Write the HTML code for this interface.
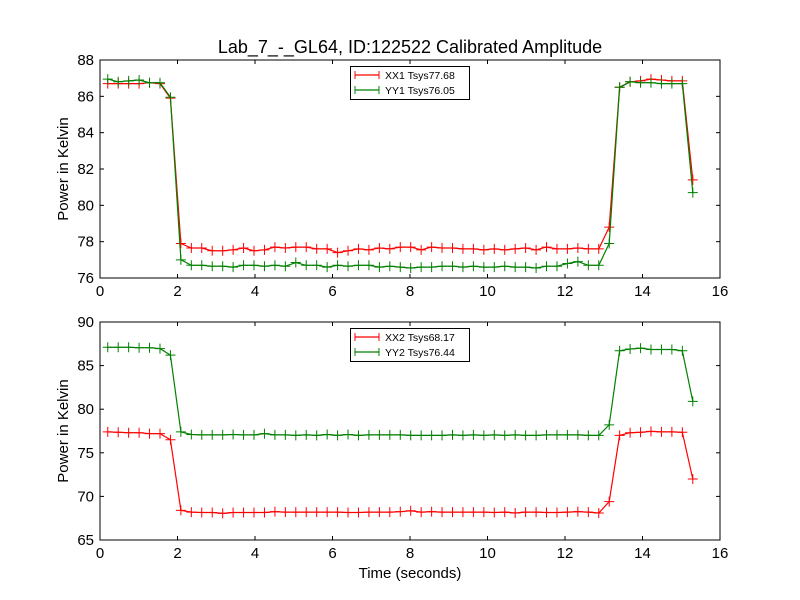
<!DOCTYPE html>
<html><head><meta charset="utf-8"><style>
body{margin:0;background:#fff;}
svg{display:block;font-family:"Liberation Sans","DejaVu Sans",sans-serif;}
</style></head><body>
<svg id="chart" width="800" height="600" viewBox="0 0 800 600">
<rect width="800" height="600" fill="#fff"/>
<text x="410" y="53" font-size="18" text-anchor="middle">Lab_7_-_GL64, ID:122522 Calibrated Amplitude</text>
<text x="410" y="578" font-size="15" text-anchor="middle">Time (seconds)</text>
</svg>
<script>
const xTicks=[0,2,4,6,8,10,12,14,16];
const topYTicks=[76,78,80,82,84,86,88];
const botYTicks=[65,70,75,80,85,90];
const times=[];
for(let i=0;i<57;i++){times.push(+(0.2+0.2696*i).toFixed(3));}
const xx1=[86.7,86.7,86.7,86.7,86.75,86.7,85.9,77.9,
77.65,77.65,77.5,77.5,77.55,77.65,77.5,77.55,77.7,77.65,77.7,77.7,77.6,77.6,77.4,77.5,77.6,77.55,77.65,77.6,
77.7,77.7,77.55,77.7,77.65,77.65,77.6,77.6,77.55,77.6,77.55,77.6,77.65,77.55,77.7,77.6,77.6,77.65,77.6,77.6,
78.8,86.5,86.8,86.85,86.95,86.9,86.85,86.85,81.4];
const yy1=[86.95,86.8,86.85,86.9,86.75,86.75,85.95,77.0,
76.7,76.7,76.65,76.65,76.6,76.7,76.7,76.65,76.7,76.65,76.85,76.7,76.7,76.6,76.7,76.65,76.7,76.7,76.6,76.65,
76.6,76.55,76.6,76.6,76.65,76.65,76.6,76.65,76.6,76.6,76.65,76.6,76.6,76.55,76.65,76.65,76.8,76.9,76.7,76.7,
77.9,86.5,86.8,86.75,86.75,86.7,86.7,86.7,80.7];
const xx2=[77.4,77.35,77.3,77.3,77.2,77.2,76.5,68.4,
68.2,68.15,68.15,68.05,68.15,68.15,68.15,68.15,68.25,68.2,68.2,68.2,68.2,68.2,68.2,68.15,68.15,68.2,68.2,68.2,
68.25,68.35,68.2,68.25,68.2,68.2,68.2,68.2,68.2,68.15,68.2,68.1,68.2,68.2,68.15,68.15,68.2,68.25,68.2,68.1,
69.4,77.0,77.3,77.35,77.45,77.4,77.4,77.35,72.0];
const yy2=[87.1,87.1,87.1,87.05,87.05,86.95,86.2,77.4,
77.1,77.05,77.05,77.05,77.1,77.05,77.05,77.2,77.05,77.05,77.0,77.05,77.0,77.1,77.0,77.1,77.0,77.05,77.05,77.05,
77.05,77.0,77.0,77.0,77.0,77.05,77.0,77.05,77.0,77.05,77.0,77.05,77.0,77.0,77.05,77.05,77.05,77.05,77.0,77.0,
78.2,86.7,86.9,87.0,86.85,86.85,86.85,86.7,80.9];
const NS="http://www.w3.org/2000/svg";
const svg=document.getElementById('chart');
function mk(tag,attrs,parent){const e=document.createElementNS(NS,tag);for(const k in attrs)e.setAttribute(k,attrs[k]);(parent||svg).appendChild(e);return e;}
function panel(name,top,bottom,yMin,yMax,yTicks,series,legendY){
  const L=100,R=720;
  const g=mk('g',{});
  
  
  const sx=v=>L+(v-0)/(16-0)*(R-L);
  const sy=v=>bottom-(v-yMin)/(yMax-yMin)*(bottom-top);
  const clip='clip-'+name;
  const cp=mk('clipPath',{id:clip},g);mk('rect',{x:L,y:top,width:R-L,height:bottom-top},cp);
  series.forEach(s=>{
    const sg=mk('g',{'clip-path':'url(#'+clip+')'},g);
    
    
    const pts=s.vals.map((v,i)=>sx(times[i]).toFixed(1)+','+sy(v).toFixed(1)).join(' ');
    mk('polyline',{points:pts,fill:'none',stroke:s.color,'stroke-width':1.2},sg);
    let d='';
    s.vals.forEach((v,i)=>{const x=sx(times[i]),y=sy(v);d+=`M${x-5},${y}H${x+5}M${x},${y-5}V${y+5}`;});
    mk('path',{d:d,stroke:s.color,'stroke-width':1,fill:'none'},sg);
  });
  mk('rect',{x:L,y:top,width:R-L,height:bottom-top,fill:'none',stroke:'#000','stroke-width':1},g);
  xTicks.forEach(t=>{
    const x=sx(t);
    mk('line',{x1:x,x2:x,y1:bottom,y2:bottom-4,stroke:'#000'},g);
    mk('line',{x1:x,x2:x,y1:top,y2:top+4,stroke:'#000'},g);
    const tx=mk('text',{x:x,y:bottom+18,'font-size':15,'text-anchor':'middle'},g);tx.textContent=t;
    
    
  });
  yTicks.forEach(t=>{
    const y=sy(t);
    mk('line',{x1:L,x2:L+4,y1:y,y2:y,stroke:'#000'},g);
    mk('line',{x1:R,x2:R-4,y1:y,y2:y,stroke:'#000'},g);
    const tx=mk('text',{x:L-6,y:y+5,'font-size':15,'text-anchor':'end'},g);tx.textContent=t;
    
    
  });
  const yt=mk('text',{x:68,y:(top+bottom)/2,'font-size':15,'text-anchor':'middle',transform:`rotate(-90 68 ${(top+bottom)/2})`},g);
  yt.textContent='Power in Kelvin';
  
  
  const lg=mk('g',{},g);
  
  
  mk('rect',{x:350.5,y:legendY+0.5,width:119,height:33,fill:'#fff',stroke:'#000','stroke-width':1},lg);
  series.forEach((s,i)=>{
    const y=legendY+9+i*15;
    const e=mk('g',{},lg);
    
    
    mk('line',{x1:355,x2:379,y1:y,y2:y,stroke:s.color,'stroke-width':1.2},e);
    mk('path',{d:`M355,${y-4}V${y+4}M379,${y-4}V${y+4}`,stroke:s.color},e);
    const tx=mk('text',{x:385,y:y+4,'font-size':10.5},e);tx.textContent=s.label;
  });
}
panel('top-panel',60,278,76,88,topYTicks,[
  {name:'series-xx1',vals:xx1,color:'#ff0000',label:'XX1 Tsys77.68'},
  {name:'series-yy1',vals:yy1,color:'#008000',label:'YY1 Tsys76.05'}],66);
panel('bottom-panel',322,540,65,90,botYTicks,[
  {name:'series-xx2',vals:xx2,color:'#ff0000',label:'XX2 Tsys68.17'},
  {name:'series-yy2',vals:yy2,color:'#008000',label:'YY2 Tsys76.44'}],328);
</script>
</body></html>
